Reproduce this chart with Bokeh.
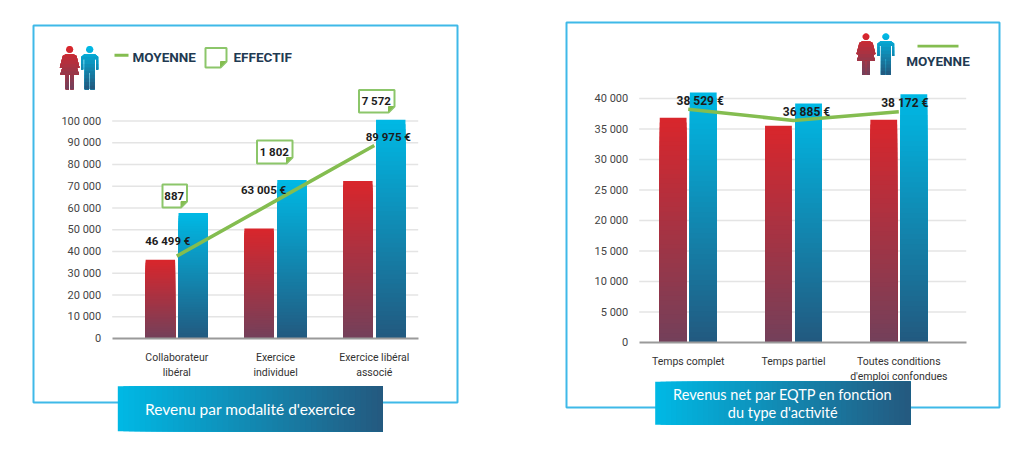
import math
from bokeh.plotting import figure
from bokeh.layouts import row
from bokeh.models import (BoxAnnotation, PolyAnnotation, Label, Range1d, FixedTicker,
                          ColumnDataSource, LinearAxis)
from bokeh.core.properties import value
from bokeh.embed import file_html
from bokeh.resources import INLINE

# ---- data ----
cats_a = ["Collaborateur\nlibéral", "Exercice\nindividuel", "Exercice libéral\nassocié"]
women_a = [36200, 50600, 72400]
men_a = [57700, 72900, 100600]
mean_a = [37900, 63300, 88800]
mean_labels_a = ["46 499 €", "63 005 €", "89 975 €"]
effectif_a = ["887", "1 802", "7 572"]
ticks_a = [0, 10000, 20000, 30000, 40000, 50000, 60000, 70000, 80000, 90000, 100000]

cats_b = ["Temps complet", "Temps partiel", "Toutes conditions\nd'emploi confondues"]
women_b = [36840, 35520, 36500]
men_b = [40980, 39180, 40700]
mean_b = [38250, 36390, 37820]
mean_labels_b = ["38 529 €", "36 885 €", "38 172 €"]
ticks_b = [0, 5000, 10000, 15000, 20000, 25000, 30000, 35000, 40000]

title_a = ["Revenu par modalité d'exercice"]
title_b = ["Revenus net par EQTP en fonction", "du type d'activité"]

# ---- styling ----
BODY = "Roboto"
TITLE_FONT = "Lato"
GREEN = "#84bd50"
NAVY = "#1f3a52"
BORDER = "#3fb9e8"
RED = ("#d8262c", "#74405a")
BLUE = ("#00b8e4", "#225a80")
BANNER = ("#00b8e4", "#245a80")
PAGE_Y = 0   # where the figures start on the page
HEIGHT = 443


def lerp(pair, t):
    a, b = pair
    ca = [int(a[i:i + 2], 16) for i in (1, 3, 5)]
    cb = [int(b[i:i + 2], 16) for i in (1, 3, 5)]
    return "#%02x%02x%02x" % tuple(round(x + (y - x) * t) for x, y in zip(ca, cb))


def fmt(v):
    return f"{v:,}".replace(",", " ")


def clip_below(pts, y0):
    out = []
    for i in range(len(pts)):
        x1, y1 = pts[i]
        x2, y2 = pts[(i + 1) % len(pts)]
        if y1 >= y0:
            out.append((x1, y1))
        if (y1 >= y0) != (y2 >= y0):
            t = (y0 - y1) / (y2 - y1)
            out.append((x1 + t * (x2 - x1), y0))
    return out


def circle(cx, cy, r, n=14):
    return [(cx + r * math.cos(2 * math.pi * i / n), cy + r * math.sin(2 * math.pi * i / n)) for i in range(n)]


WOMAN = [circle(10, 3.6, 3.6),
         [(6, 8.5), (14, 8.5), (17, 10), (20, 22), (18, 22.5), (15, 14), (19.5, 29), (0.5, 29), (5, 14), (2, 22.5), (0, 22), (3, 10)],
         [(6, 29), (9.3, 29), (9.3, 44), (6, 44)],
         [(10.7, 29), (14, 29), (14, 44), (10.7, 44)]]
MAN = [circle(8.5, 3.6, 3.6),
       [(3, 8.5), (14, 8.5), (17, 11), (17, 24), (15, 24), (15, 13.5), (13.5, 13.5), (13.5, 44), (9.1, 44), (9.1, 27),
        (7.9, 27), (7.9, 44), (3.5, 44), (3.5, 13.5), (2, 13.5), (2, 24), (0, 24), (0, 11)]]


class Chart:
    """A figure whose plot area fills it; its scales are set so that px positions of the window can be used."""

    def __init__(self, fig_left, fig_width, c0, xspan, y0, px_per_unit, plot_l, plot_r, cats, ticks):
        self.c0, self.xspan, self.y0, self.k = c0, xspan, y0, px_per_unit
        p = figure(width=fig_width, height=HEIGHT, output_backend="svg", toolbar_location=None,
                   x_range=Range1d(self.X(fig_left), self.X(fig_left + fig_width)),
                   y_range=Range1d(self.Y(PAGE_Y + HEIGHT), self.Y(PAGE_Y)),
                   x_axis_type=None, y_axis_type=None,
                   min_border=0, min_border_left=0, min_border_right=0, min_border_top=0, min_border_bottom=0)
        self.p = p
        p.outline_line_color = None
        p.xgrid.visible = False
        p.ygrid.visible = False
        self.positions = list(range(len(cats)))
        xr = (self.X(plot_l), self.X(plot_r))

        p.segment(x0=[xr[0]] * (len(ticks) - 1), x1=[xr[1]] * (len(ticks) - 1), y0=ticks[1:], y1=ticks[1:],
                  line_color="#e4e4e4", line_width=1.5)

        yax = LinearAxis(ticker=FixedTicker(ticks=ticks), fixed_location=xr[0],
                         major_label_overrides={t: fmt(t) for t in ticks},
                         axis_line_color=None, major_tick_line_color=None, minor_tick_line_color=None,
                         major_label_standoff=5, major_label_text_font=BODY,
                         major_label_text_font_size="11px", major_label_text_color="#444444")
        p.add_layout(yax, "left")
        xax = LinearAxis(ticker=FixedTicker(ticks=self.positions), fixed_location=0, bounds=xr,
                         major_label_overrides=dict(zip(self.positions, cats)),
                         axis_line_color="#9a9a9a", axis_line_width=2,
                         major_tick_line_color=None, minor_tick_line_color=None,
                         major_label_standoff=6, major_label_text_font=BODY,
                         major_label_text_font_size="10.5px", major_label_text_color="#333333")
        p.add_layout(xax, "below")

    def X(self, px):
        return (px - self.c0) / self.xspan

    def Y(self, py):
        return (self.y0 - py) / self.k

    def bars(self, women, men, bar_w, bar_off):
        steps = 48
        for values, pair, sign in ((women, RED, -1), (men, BLUE, 1)):
            xs, tops, colors = [], [], []
            for s in range(steps):
                f = 1 - s / steps
                for pos, v in zip(self.positions, values):
                    xs.append(pos + sign * bar_off)
                    tops.append(v * f)
                    colors.append(lerp(pair, s / (steps - 1)))
            self.p.vbar(x=xs, width=bar_w, bottom=0, top=tops, fill_color=colors, line_color=None)

    def mean(self, means, labels, offsets, size):
        self.p.line(self.positions, means, line_color=GREEN, line_width=3.5)
        src = ColumnDataSource(dict(x=self.positions, y=means, t=labels,
                                    dx=[o[0] for o in offsets], dy=[o[1] for o in offsets]))
        self.p.text("x", "y", text="t", source=src, x_offset="dx", y_offset="dy",
                    text_align="center", text_baseline="middle", text_font=value(BODY), text_font_style="bold",
                    text_font_size=size, text_color="#1c1c1c")

    def box(self, l, r, t, b, fill=None, line=None, lw=1):
        self.p.add_layout(BoxAnnotation(left=self.X(l), right=self.X(r), top=self.Y(t), bottom=self.Y(b),
                                        fill_color=fill, fill_alpha=1 if fill else 0,
                                        line_color=line, line_width=lw, line_alpha=1 if line else 0))

    def poly(self, pts, fill=None, line=None, lw=1):
        self.p.add_layout(PolyAnnotation(xs=[self.X(x) for x, _ in pts], ys=[self.Y(y) for _, y in pts],
                                         fill_color=fill, fill_alpha=1 if fill else 0,
                                         line_color=line, line_width=lw, line_alpha=1 if line else 0))

    def text(self, s, x, y, size, color, font=BODY, style="normal", align="center"):
        self.p.add_layout(Label(x=self.X(x), y=self.Y(y), text=s, text_font=font, text_font_size=size,
                                text_font_style=style, text_color=color, text_align=align,
                                text_baseline="middle"))

    def banner(self, l, r, t, b, lines, size, gap):
        n = 48
        for s in range(n):
            self.box(l + (r - l) * s / n, r, t, b, fill=lerp(BANNER, s / (n - 1)))
        cy = (t + b) / 2 - gap * (len(lines) - 1) / 2
        for i, s in enumerate(lines):
            self.text(s, (l + r) / 2, cy + i * gap, size, "white", font=TITLE_FONT)

    def person(self, shapes, x, y, sx, sy, pair):
        bands = 12
        for shape in shapes:
            pts = [(x + a * sx, y + c * sy) for a, c in shape]
            for s in range(bands):
                part = clip_below(pts, y + 44 * sy * s / bands)
                if len(part) >= 3:
                    self.poly(part, fill=lerp(pair, s / (bands - 1)))

    def note(self, l, r, t, b, lw=2):
        c = 6
        self.poly([(l, t), (r, t), (r, b - c), (r - c, b), (l, b)], fill="white", line="#8cc66a", lw=lw)
        self.poly([(r - 1, b - c), (r - c, b - 1), (r - c, b - c)], fill=GREEN, line=GREEN, lw=1)


# ---- left chart ----
a = Chart(0, 508, 176.3, 98.75, 338, 217.4 / 100000, 111.7, 417.7, cats_a, ticks_a)
a.bars(women_a, men_a, 0.298, 0.1665)
a.mean(mean_a, mean_labels_a, [(-9, -15), (-12, -11), (14, -8)], "11.5px")
a.box(33, 457, 25, 402, line=BORDER, lw=2)
a.banner(117.3, 382.3, 385.7, 430.7, title_a, "15.5px", 0)
a.person(WOMAN, 59.3, 45.3, 0.985, 0.99, RED)
a.person(MAN, 80.7, 45.3, 1.0, 0.99, BLUE)
a.box(114, 128, 53.2, 56.2, fill=GREEN)
a.text("MOYENNE", 132, 56.5, "13.5px", NAVY, style="bold", align="left")
a.note(205, 226, 47.5, 67)
a.text("EFFECTIF", 233, 56, "13.5px", NAVY, style="bold", align="left")
for s, (l_, r_, t_, b_) in zip(effectif_a, [(162, 186.5, 184, 207), (256.5, 292, 140, 163), (358.5, 394, 89.5, 112)]):
    a.note(l_, r_, t_, b_)
    a.text(s, (l_ + r_) / 2 - 0.5, (t_ + b_) / 2 - 0.5, "11.5px", "#1c1c1c", style="bold")

# ---- right chart ----
b = Chart(508, 508, 687.7, 105.3, 342, 6.1 / 1000, 638.7, 965.7, cats_b, ticks_b)
b.bars(women_b, men_b, 0.2545, 0.143)
b.mean(mean_b, mean_labels_b, [(12, -8.4), (13, -9), (6, -8.6)], "12px")
b.box(566, 999, 22, 407, line=BORDER, lw=2)
b.banner(654.7, 909.7, 381.3, 424.3, title_b, "14.5px", 18)
b.person(WOMAN, 856, 32.7, 0.95, 0.945, RED)
b.person(MAN, 877, 32.7, 0.98, 0.945, BLUE)
b.box(917, 958, 44.2, 47, fill=GREEN)
b.text("MOYENNE", 937.5, 60.5, "13.5px", NAVY, style="bold")

page = row(a.p, b.p, spacing=0)
open("out.html", "w").write(file_html(page, INLINE))
